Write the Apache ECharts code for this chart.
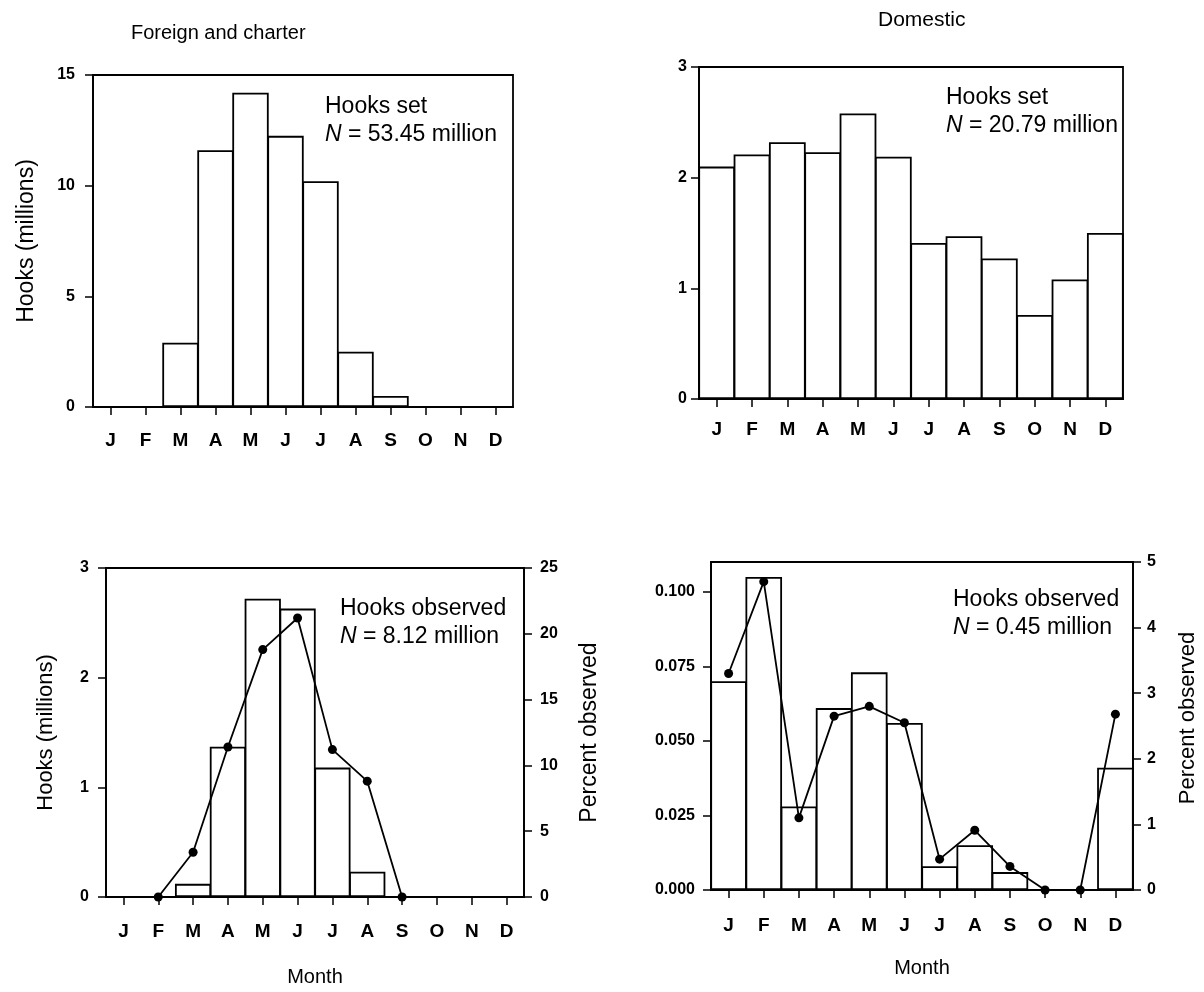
<!DOCTYPE html>
<html><head><meta charset="utf-8">
<script src="https://cdn.jsdelivr.net/npm/echarts@6/dist/echarts.min.js"></script>
<style>html,body{margin:0;padding:0;background:#fff}#c{width:1204px;height:992px}</style>
</head><body><div id="c"></div>
<script>
const months = ['J','F','M','A','M','J','J','A','S','O','N','D'];
// Foreign and charter
const foreignSet = [0, 0, 2.9, 11.6, 14.2, 12.25, 10.2, 2.5, 0.5, 0, 0, 0];
const foreignObs = [0, 0, 0.12, 1.37, 2.72, 2.63, 1.18, 0.23, 0, 0, 0, 0];
const foreignPct = [null, 0, 3.4, 11.4, 18.8, 21.2, 11.2, 8.8, 0, null, null, null];
// Domestic
const domesticSet = [2.10, 2.21, 2.32, 2.23, 2.58, 2.19, 1.41, 1.47, 1.27, 0.76, 1.08, 1.50];
const domesticObs = [0.070, 0.105, 0.028, 0.061, 0.073, 0.056, 0.008, 0.015, 0.006, 0, 0, 0.041];
const domesticPct = [3.3, 4.7, 1.1, 2.65, 2.8, 2.55, 0.47, 0.91, 0.36, 0, 0, 2.68];

const FONT = 'Liberation Sans, Arial, sans-serif';
const LW = 1.8;
const chart = echarts.init(document.getElementById('c'), null, {renderer: 'canvas'});

function grid(left, top, width, height) {
  return {left, top, width, height, show: true, borderColor: '#000', borderWidth: LW, backgroundColor: 'transparent', containLabel: false};
}
function xAxis(gi, margin, name, nameGap) {
  return {
    type: 'category', gridIndex: gi, data: months, boundaryGap: true,
    axisLine: {show: true, lineStyle: {color: '#000', width: LW}},
    axisTick: {show: true, alignWithLabel: true, length: 8, inside: false, lineStyle: {color: '#000', width: 1.5}},
    axisLabel: {margin, color: '#000', fontFamily: FONT, fontSize: 19, fontWeight: 'bold'},
    splitLine: {show: false},
    name: name || '', nameLocation: 'middle', nameGap: nameGap || 0,
    nameTextStyle: {color: '#000', fontFamily: FONT, fontSize: 20}
  };
}
function yAxis(gi, min, max, interval, opts) {
  return Object.assign({
    type: 'value', gridIndex: gi, min, max, interval,
    axisLine: {show: true, lineStyle: {color: '#000', width: LW}},
    axisTick: {show: true, length: 8, lineStyle: {color: '#000', width: 1.5}},
    axisLabel: {color: '#000', fontFamily: FONT, fontSize: 16, fontWeight: 'bold', margin: 16},
    splitLine: {show: false},
    nameLocation: 'middle', nameRotate: 90,
    nameTextStyle: {color: '#000', fontFamily: FONT, fontSize: 22}
  }, opts || {});
}
function lbl(margin, extra) {
  return Object.assign({color: '#000', fontFamily: FONT, fontSize: 16, fontWeight: 'bold', margin}, extra || {});
}
function nameStyle(size) {
  return {color: '#000', fontFamily: FONT, fontSize: size};
}
const barStyle = {color: '#fff', borderColor: '#000', borderWidth: LW};
function bars(xi, yi, data) {
  return {type: 'bar', xAxisIndex: xi, yAxisIndex: yi, data, barWidth: '104%', itemStyle: barStyle, silent: true, z: 2};
}
function line(xi, yi, data) {
  return {type: 'line', xAxisIndex: xi, yAxisIndex: yi, data, connectNulls: false,
    symbol: 'circle', symbolSize: 9, itemStyle: {color: '#000'}, lineStyle: {color: '#000', width: 1.8}, silent: true, z: 3};
}
const rich = {i: {fontStyle: 'italic', fontFamily: FONT, fontSize: 23, color: '#000'}, n: {fontFamily: FONT, fontSize: 23, color: '#000'}};
function note(left, top, l1, l2) {
  return {left, top, text: l1 + '\n{i|N}{n| = ' + l2 + '}',
    textStyle: {fontFamily: FONT, fontSize: 23, fontWeight: 'normal', color: '#000', lineHeight: 28, rich}};
}

const option = {
  animation: false,
  backgroundColor: '#fff',
  title: [
    {text: 'Foreign and charter', left: 126, top: 18, textStyle: {fontFamily: FONT, fontSize: 20, fontWeight: 'normal', color: '#000'}},
    {text: 'Domestic', left: 873, top: 5, textStyle: {fontFamily: FONT, fontSize: 21, fontWeight: 'normal', color: '#000'}},
    note(320, 88, 'Hooks set', '53.45 million'),
    note(941, 79, 'Hooks set', '20.79 million'),
    note(335, 590, 'Hooks observed', '8.12 million'),
    note(948, 581, 'Hooks observed', '0.45 million')
  ],
  grid: [
    grid(93, 75, 420, 332),
    grid(699, 67, 424, 332),
    grid(106, 568, 418, 329),
    grid(711, 562, 422, 328)
  ],
  xAxis: [
    xAxis(0, 24),
    xAxis(1, 21),
    xAxis(2, 25, 'Month', 70),
    xAxis(3, 26, 'Month', 68)
  ],
  yAxis: [
    yAxis(0, 0, 15, 5, {name: 'Hooks (millions)', nameGap: 55, nameTextStyle: nameStyle(23), axisLabel: lbl(18)}),
    yAxis(1, 0, 3, 1, {axisLabel: lbl(12)}),
    yAxis(2, 0, 3, 1, {name: 'Hooks (millions)', nameGap: 49, nameTextStyle: nameStyle(22), axisLabel: lbl(17)}),
    yAxis(2, 0, 25, 5, {position: 'right', name: 'Percent observed', nameGap: 54, nameTextStyle: nameStyle(23), axisLabel: lbl(16)}),
    yAxis(3, 0, 0.11, 0.025, {axisLabel: lbl(16, {showMaxLabel: false, formatter: v => v.toFixed(3)})}),
    yAxis(3, 0, 5, 1, {position: 'right', name: 'Percent observed', nameGap: 44, nameTextStyle: Object.assign(nameStyle(22), {padding: [0, 0, 0, 16]}), axisLabel: lbl(14)})
  ],
  series: [
    bars(0, 0, foreignSet),
    bars(1, 1, domesticSet),
    bars(2, 2, foreignObs),
    line(2, 3, foreignPct),
    bars(3, 4, domesticObs),
    line(3, 5, domesticPct)
  ]
};
chart.setOption(option);
</script></body></html>
